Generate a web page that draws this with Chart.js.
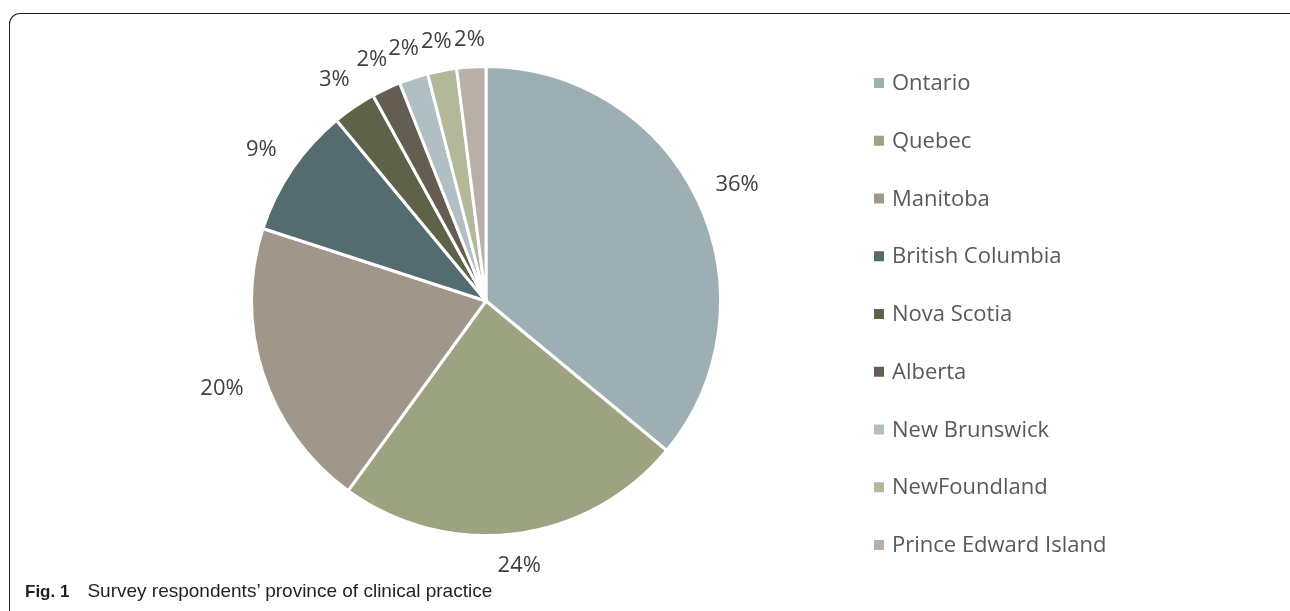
<!DOCTYPE html>
<html>
<head>
<meta charset="utf-8">
<script src="https://cdn.jsdelivr.net/npm/chart.js@4.4.0/dist/chart.umd.min.js"></script>
<style>
  html, body { margin: 0; padding: 0; background: #fff; }
  #frame {
    position: absolute; left: 9px; top: 13px; width: 1300px; height: 700px;
    border-top: 1.5px solid #222; border-left: 1.5px solid #222;
    border-top-left-radius: 11px;
  }
  #wrap { position: absolute; left: 0; top: 0; width: 1290px; height: 611px; }
  #caption {
    position: absolute; left: 25px; top: 580px;
    font-family: "Liberation Sans", Arial, sans-serif; font-size: 19px; color: #231f20;
    white-space: nowrap;
  }
  #caption b { font-size: 17px; margin-right: 18px; }
</style>
</head>
<body>
<div id="frame"></div>
<div id="wrap"><canvas id="myChart" width="1290" height="611"></canvas></div>
<div id="caption"><b>Fig. 1</b>Survey respondents’ province of clinical practice</div>
<script>
let provinces = ["Ontario", "Quebec", "Manitoba", "British Columbia", "Nova Scotia",
                 "Alberta", "New Brunswick", "NewFoundland", "Prince Edward Island"];
let percents = [36, 24, 20, 9, 3, 2, 2, 2, 2];
let colors = ["#9dafb4", "#9ca380", "#a09689", "#546b70", "#5d6248",
              "#655c52", "#b0bfc4", "#b3b89a", "#b8afa6"];

// percentage labels just outside the rim
const outsideLabels = {
    id: 'outsideLabels',
    afterDatasetsDraw(chart) {
        const ctx = chart.ctx;
        const meta = chart.getDatasetMeta(0);
        ctx.save();
        ctx.font = '22px "Open Sans"';
        ctx.fillStyle = '#404040';
        ctx.textAlign = 'center';
        ctx.textBaseline = 'alphabetic';
        const h = 16;
        meta.data.forEach((arc, i) => {
            const p = arc.getProps(['x', 'y', 'startAngle', 'endAngle', 'outerRadius'], true);
            const mid = (p.startAngle + p.endAngle) / 2;
            const c = Math.cos(mid), s = Math.sin(mid);
            const text = percents[i] + '%';
            const w = ctx.measureText(text).width;
            const ext = Math.abs(c) * w / 2 + Math.abs(s) * h / 2;
            const d = p.outerRadius + 20 + ext;
            ctx.fillText(text, p.x + c * d, p.y + s * d + h / 2);
        });
        ctx.restore();
    }
};

// legend on the right, square markers
const sideLegend = {
    id: 'sideLegend',
    afterDraw(chart) {
        const ctx = chart.ctx;
        ctx.save();
        ctx.font = '22px "Open Sans"';
        ctx.textBaseline = 'alphabetic';
        ctx.textAlign = 'left';
        chart.data.labels.forEach((lab, i) => {
            const y = 82 + i * 57.75;
            ctx.fillStyle = chart.data.datasets[0].backgroundColor[i];
            ctx.fillRect(874, y - 4, 10, 10);
            ctx.fillStyle = '#595959';
            ctx.fillText(lab, 892, y + 8);
        });
        ctx.restore();
    }
};

new Chart(document.getElementById('myChart'), {
    type: "pie",
    data: {
        labels: provinces,
        datasets: [
            {
                data: percents,
                backgroundColor: colors,
                borderColor: "#ffffff",
                borderWidth: 3
            }
        ]
    },
    options: {
        responsive: false,
        animation: false,
        layout: { padding: { left: 186, right: 504, top: 65, bottom: 74 } },
        plugins: {
            legend: { display: false },
            tooltip: { enabled: false }
        }
    },
    plugins: [outsideLabels, sideLegend]
});
</script>
</body>
</html>
